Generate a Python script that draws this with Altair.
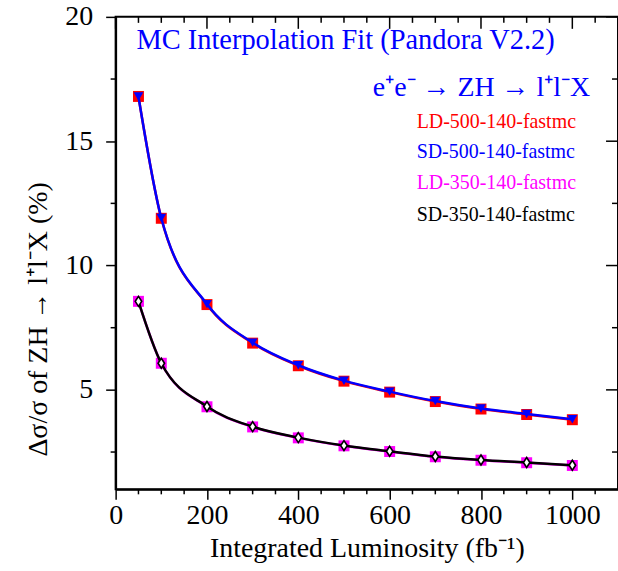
import altair as alt
import pandas as pd

# ---- data ----
lum = [50, 100, 200, 300, 400, 500, 600, 700, 800, 900, 1000]
ld500 = [16.80, 11.90, 8.43, 6.88, 5.97, 5.35, 4.91, 4.53, 4.23, 4.01, 3.80]
sd500 = [16.80, 11.91, 8.45, 6.90, 5.99, 5.37, 4.93, 4.55, 4.25, 4.03, 3.82]
ld350 = [8.56, 6.07, 4.32, 3.51, 3.07, 2.75, 2.52, 2.31, 2.17, 2.07, 1.96]
sd350 = [8.56, 6.07, 4.33, 3.52, 3.08, 2.76, 2.53, 2.32, 2.18, 2.08, 1.97]

series_names = ["LD-500-140-fastmc", "SD-500-140-fastmc",
                "LD-350-140-fastmc", "SD-350-140-fastmc"]
series_colors = ["#ff0000", "#0000ff", "#ff00ff", "#000000"]

x_major = [0, 200, 400, 600, 800, 1000]
x_minor = [50, 100, 150, 250, 300, 350, 450, 500, 550, 650, 700, 750,
           850, 900, 950, 1050]
y_major = [5, 10, 15, 20]
y_minor = [2.5, 7.5, 12.5, 17.5]

title_text = "MC Interpolation Fit (Pandora V2.2)"
process_text = "e\u207ae\u207b \u2192 ZH \u2192 l\u207al\u207bX"
x_title = "Integrated Luminosity (fb\u207b\u00b9)"
y_title = "\u0394\u03c3/\u03c3 of ZH \u2192 l\u207al\u207bX (%)"

FONT = "Liberation Serif"
W, H = 504, 474

df = pd.DataFrame({"lum": lum, "ld500": ld500, "sd500": sd500,
                   "ld350": ld350, "sd350": sd350})

xscale = alt.Scale(domain=[0, 1100], nice=False, zero=False)
yscale = alt.Scale(domain=[1, 20], nice=False, zero=False)

xaxis = alt.Axis(values=x_major, format="d", title=x_title, grid=False,
                 tickSize=10, tickWidth=1.5, tickColor="black",
                 domain=True, domainColor="black", domainWidth=2,
                 labelFont=FONT, labelFontSize=28, labelColor="black",
                 labelPadding=2, labelBaseline="top", labelFlush=False,
                 labelOverlap=False,
                 titleFont=FONT, titleFontSize=28, titleFontWeight="normal",
                 titleColor="black", titleX=252, titleY=67,
                 titleBaseline="alphabetic", titleAlign="center")
yaxis = alt.Axis(values=y_major, format="d", title=y_title, grid=False,
                 tickSize=10, tickWidth=1.5, tickColor="black",
                 domain=True, domainColor="black", domainWidth=2,
                 labelFont=FONT, labelFontSize=28, labelColor="black",
                 labelPadding=13, labelFlush=False, labelOverlap=False,
                 titleFont=FONT, titleFontSize=28, titleFontWeight="normal",
                 titleColor="black", titleX=-69, titleY=303, titleAngle=-90,
                 titleBaseline="alphabetic", titleAlign="center")


def X(field):
    return alt.X(field, type="quantitative", scale=xscale, axis=xaxis)


def Y(field):
    return alt.Y(field, type="quantitative", scale=yscale, axis=yaxis)


base = alt.Chart(df)
layers = []

# upper pair
layers.append(base.mark_line(interpolate="monotone", strokeWidth=2.5,
                             color=series_colors[0]).encode(x=X("lum"), y=Y("ld500")))
layers.append(base.mark_point(shape="square", filled=True, opacity=1, size=121,
                              color=series_colors[0]).encode(x=X("lum"), y=Y("ld500")))
layers.append(base.mark_line(interpolate="monotone", strokeWidth=2.5,
                             color=series_colors[1]).encode(x=X("lum"), y=Y("sd500")))
layers.append(base.mark_point(shape="triangle-down", filled=True, opacity=1, size=95,
                              color=series_colors[1]).encode(x=X("lum"), y=Y("sd500")))
# lower pair
layers.append(base.mark_line(interpolate="monotone", strokeWidth=2.5,
                             color=series_colors[2]).encode(x=X("lum"), y=Y("ld350")))
layers.append(base.mark_point(shape="square", filled=True, opacity=1, size=121,
                              color=series_colors[2]).encode(x=X("lum"), y=Y("ld350")))
layers.append(base.mark_line(interpolate="monotone", strokeWidth=2.5,
                             color=series_colors[3]).encode(x=X("lum"), y=Y("sd350")))
layers.append(base.mark_point(shape="M0,-1L0.65,0L0,1L-0.65,0Z", filled=False,
                              opacity=1, size=100, fill="white", fillOpacity=1,
                              stroke="black", strokeWidth=1.6).encode(x=X("lum"), y=Y("sd350")))

# minor / mirrored ticks
xmaj_df = pd.DataFrame({"v": x_major})
xmin_df = pd.DataFrame({"v": x_minor})
ymaj_df = pd.DataFrame({"v": y_major})
ymin_df = pd.DataFrame({"v": y_minor})

tick = dict(color="black", strokeWidth=1.5)
layers.append(alt.Chart(xmin_df).mark_rule(**tick).encode(
    x=X("v"), y=alt.value(H), y2=alt.value(H + 5)))
layers.append(alt.Chart(xmin_df).mark_rule(**tick).encode(
    x=X("v"), y=alt.value(0), y2=alt.value(6)))
layers.append(alt.Chart(xmaj_df).mark_rule(**tick).encode(
    x=X("v"), y=alt.value(0), y2=alt.value(12)))
layers.append(alt.Chart(ymin_df).mark_rule(**tick).encode(
    y=Y("v"), x=alt.value(-5), x2=alt.value(0)))
layers.append(alt.Chart(ymin_df).mark_rule(**tick).encode(
    y=Y("v"), x=alt.value(W - 6), x2=alt.value(W)))
layers.append(alt.Chart(ymaj_df).mark_rule(**tick).encode(
    y=Y("v"), x=alt.value(W - 12), x2=alt.value(W)))

# annotations
layers.append(alt.Chart(pd.DataFrame({"t": [title_text]})).mark_text(
    font=FONT, fontSize=28.5, color="#0000ff", align="left",
    baseline="alphabetic"
).encode(x=alt.value(21), y=alt.value(32), text="t:N"))
layers.append(alt.Chart(pd.DataFrame({"t": [process_text]})).mark_text(
    font=FONT, fontSize=28, color="#0000ff", align="right",
    baseline="alphabetic"
).encode(x=alt.value(476), y=alt.value(79), text="t:N"))
leg_y = [111, 142, 173, 205]
for name, col, yy in zip(series_names, series_colors, leg_y):
    layers.append(alt.Chart(pd.DataFrame({"t": [name]})).mark_text(
        font=FONT, fontSize=20, color=col, align="left", baseline="alphabetic"
    ).encode(x=alt.value(302), y=alt.value(yy), text="t:N"))

chart = alt.layer(*layers).properties(
    width=W, height=H,
    autosize=alt.AutoSizeParams(type="none"),
    padding={"left": 116, "top": 16, "right": 0, "bottom": 81},
    background="white",
).configure_view(stroke="black", strokeWidth=2)

chart.save("out.html", embed_options={"renderer": "svg", "actions": False})
